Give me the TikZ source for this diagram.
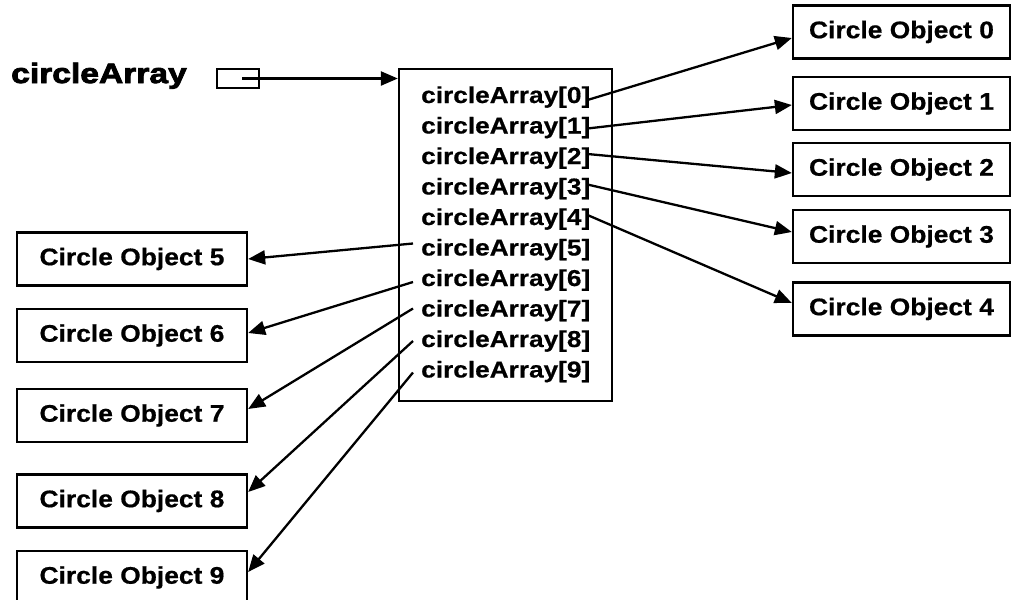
\documentclass[tikz,border=0pt]{standalone}
\usepackage{fontspec}
\setmainfont{Liberation Sans}
\newfontfamily\cellfont[FakeStretch=1.14,BoldFeatures={FakeBold=0.6}]{Liberation Sans}
\newfontfamily\objfont[FakeStretch=1.1,BoldFeatures={FakeBold=0.6}]{Liberation Sans}
\newfontfamily\titlefont[FakeStretch=1.2,FakeBold=3,UprightFont={* Bold}]{Liberation Sans}
\usetikzlibrary{arrows.meta,calc}

\tikzset{
  link/.style={line width=2.3pt, -{Triangle[length=17pt,width=14pt]}},
  objbox/.style={draw, line width=2.3pt, inner sep=0pt,
    minimum height=53pt,
    font=\objfont\bfseries\fontsize{24}{24}\selectfont},
  rightobj/.style={objbox, minimum width=217pt},
  leftobj/.style={objbox, minimum width=230pt},
  cell/.style={inner sep=0pt, anchor=base west,
    font=\cellfont\bfseries\fontsize{23}{23}\selectfont},
}

\begin{document}
\begin{tikzpicture}[x=1pt,y=-1pt]
\useasboundingbox (0,0) rectangle (1013,600);

% variable name and its reference cell
\node[anchor=base west, inner sep=0pt,
      font=\titlefont\fontsize{28}{28}\selectfont] (title) at (11,83) {circleArray};
\node[draw, line width=2pt, inner sep=0pt, minimum width=42pt, minimum height=19pt] (ptr) at (238,78.5) {};

% the array object
\node[draw, line width=2.3pt, inner sep=0pt, minimum width=213pt, minimum height=332pt] (arr) at (505.5,235) {};
\foreach \i in {0,...,9} {
  \node[cell] (c\i) at (421,{103+30.5*\i}) {circleArray[\i]};
}

% circle objects
\node[rightobj] (o0) at (901.5,32)    {Circle Object 0};
\node[rightobj] (o1) at (901.5,103.5) {Circle Object 1};
\node[rightobj] (o2) at (901.5,169.5) {Circle Object 2};
\node[rightobj] (o3) at (901.5,236.5) {Circle Object 3};
\node[rightobj] (o4) at (901.5,309)   {Circle Object 4};
\node[leftobj]  (o5) at (132,259)     {Circle Object 5};
\node[leftobj]  (o6) at (132,335.5)   {Circle Object 6};
\node[leftobj]  (o7) at (132,415.5)   {Circle Object 7};
\node[leftobj]  (o8) at (132,501)     {Circle Object 8};
\node[leftobj]  (o9) at (132,577.5)   {Circle Object 9};

% reference from the variable to the array
\draw[link] ($(ptr.center)+(4,0)$) -- (ptr.center -| arr.west);

% element references
\draw[link] ($(c0.base east)+(-3,-3)$)  -- ($(o0.west)+(0,6)$);
\draw[link] ($(c1.base east)+(-3,-5)$)  -- ($(o1.west)+(0,1.5)$);
\draw[link] ($(c2.base east)+(-3,-10)$) -- ($(o2.west)+(0,3.5)$);
\draw[link] ($(c3.base east)+(-3,-10)$) -- ($(o3.west)+(0,-4.5)$);
\draw[link] ($(c4.base east)+(-3,-10)$) -- ($(o4.west)+(0,-6)$);

\draw[link] ($(c5.base west)+(-8,-12)$) -- (o5.east);
\draw[link] ($(c6.base west)+(-8,-4)$)  -- ($(o6.east)+(0,-2.5)$);
\draw[link] ($(c7.base west)+(-8,-8)$)  -- ($(o7.east)+(0,-6.5)$);
\draw[link] ($(c8.base west)+(-8,-6)$)  -- ($(o8.east)+(0,-9)$);
\draw[link] ($(c9.base west)+(-8,-5)$)  -- ($(o9.east)+(0,-5.5)$);
\end{tikzpicture}
\end{document}
